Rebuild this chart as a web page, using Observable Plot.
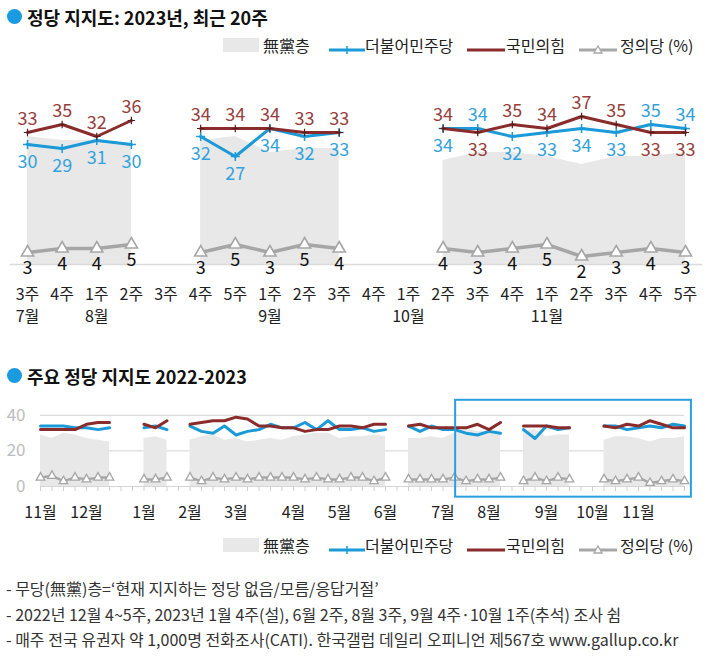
<!DOCTYPE html>
<html><head><meta charset="utf-8">
<script src="https://cdn.jsdelivr.net/npm/d3@7"></script>
<script src="https://cdn.jsdelivr.net/npm/@observablehq/plot@0.6"></script>
<style>
body{margin:0;background:#fff;}
#root{position:relative;width:720px;height:663px;overflow:hidden;font-family:"Noto Sans CJK KR","Noto Sans",sans-serif;color:#222;}
.abs{position:absolute;white-space:nowrap;}
.title{font-weight:bold;font-size:18px;line-height:22px;color:#111;}
.bullet{width:15px;height:15px;border-radius:50%;background:#1a9be0;}
.leg{font-size:16px;line-height:20px;color:#222;}
.note{font-size:16px;line-height:20px;color:#333;}
svg{overflow:visible;}
</style></head><body><div id="root"></div>
<script>
// ---- data (weekly, Nov 2022 1st week .. Nov 2023 5th week; null = no survey) ----
const monthNamesAll = ["11월","12월","1월","2월","3월","4월","5월","6월","7월","8월","9월","10월","11월"];
const monthStartIdx = [0,4,9,13,17,22,26,30,35,39,44,48,52];
const democratic = [34,34,34,33,33,32,33,null,null,33,34,32,null,
  34,31,30,34,29,31,32,35,33,33,36,32,37,32,32,33,31,32,null,
  34,31,34,32,32,30,29,31,30,null,32,27,34,32,33,null,null,34,34,32,33,34,33,35,34];
const ppp = [32,32,32,32,35,36,36,null,null,35,33,37,null,
  35,36,37,37,39,38,34,34,33,33,31,32,32,34,34,33,35,35,null,
  34,35,33,33,33,33,35,32,36,null,34,34,34,33,33,null,null,34,33,35,34,37,35,33,33];
const justice = [5,6,3,5,4,5,5,null,null,4,4,5,null,
  5,3,5,4,5,4,5,5,5,5,4,5,4,4,5,5,3,5,null,
  4,4,4,4,5,3,4,4,5,null,3,5,3,5,4,null,null,4,3,4,5,2,3,4,3];
const independents = [29,27,30,29,27,26,25,null,null,27,28,26,null,
  26,28,29,26,27,25,26,27,26,28,29,30,30,27,28,28,29,28,null,
  27,27,28,27,30,32,31,31,30,null,31,32,28,29,29,null,null,26,28,28,27,25,27,27,28];
const recentStart = 37; // 2023년 7월 3주
const recentWeekLabels = ["3주","4주","1주","2주","3주","4주","5주","1주","2주","3주","4주","1주","2주","3주","4주","1주","2주","3주","4주","5주"];
const recentMonthIdx = [0,2,7,11,15];
const recentMonthNames = ["7월","8월","9월","10월","11월"];
const yTicksAll = [0,20,40];
const legendNames = ["無黨층","더불어민주당","국민의힘","정의당 (%)"];
const notes = [
  "- 무당(無黨)층=‘현재 지지하는 정당 없음/모름/응답거절’",
  "- 2022년 12월 4~5주, 2023년 1월 4주(설), 6월 2주, 8월 3주, 9월 4주·10월 1주(추석) 조사 쉼",
  "- 매주 전국 유권자 약 1,000명 전화조사(CATI). 한국갤럽 데일리 오피니언 제567호 www.gallup.co.kr"
];

const BLUE="#1b9ad8", BLUE_T="#33a2dc", RED="#8b2c2c", RED_T="#96403d", GRAY="#a6a6a6", AREA="#e8e8e8", BOX="#2a9fe0";
const NUMFONT='"Liberation Sans Narrow","Arial Narrow","Noto Sans CJK KR",sans-serif';

const all = d3.range(democratic.length).map(i => ({i, blue: democratic[i], red: ppp[i], jp: justice[i], ind: independents[i]}));
const recent = all.slice(recentStart).map((d,k) => ({...d, k}));

const root = document.getElementById("root");
function add(html, cls, left, top){ const e=document.createElement("div"); e.className="abs "+cls; e.style.left=left+"px"; e.style.top=top+"px"; e.innerHTML=html; root.appendChild(e); return e; }

// titles
add("", "bullet", 7, 9);
add("정당 지지도: 2023년, 최근 20주", "title", 27, 6);
add("", "bullet", 7, 368);
add("주요 정당 지지도 2022-2023", "title", 27, 365);

// legend
function legend(cy){
  const sw = add("", "", 223, cy-7); sw.style.width="36px"; sw.style.height="14px"; sw.style.background=AREA;
  add(legendNames[0], "leg", 263, cy-10);
  add(`<svg width="36" height="14"><line x1="0" x2="36" y1="7" y2="7" stroke="${BLUE}" stroke-width="3"/><line x1="18" x2="18" y1="3" y2="11" stroke="${BLUE}" stroke-width="1.5"/></svg>`, "", 329, cy-7);
  add(legendNames[1], "leg", 365, cy-10);
  add(`<svg width="38" height="14"><line x1="0" x2="38" y1="7" y2="7" stroke="${RED}" stroke-width="3"/></svg>`, "", 467, cy-7);
  add(legendNames[2], "leg", 506, cy-10);
  add(`<svg width="38" height="14"><line x1="0" x2="38" y1="7" y2="7" stroke="${GRAY}" stroke-width="3"/><path d="M19,3 L23,10 L15,10 Z" fill="white" stroke="${GRAY}" stroke-width="1.3"/></svg>`, "", 579, cy-7);
  add(legendNames[3], "leg", 620, cy-10);
}
legend(45);
legend(545);

// footnotes
notes.forEach((t,j) => add(t, "note", 6, 578 + j*25.5));

// ---- top chart ----
const above = d => d.red >= d.blue;
const topPlot = Plot.plot({
  width: 720, height: 260,
  marginLeft: 9.7, marginRight: 17.7, marginTop: 14, marginBottom: 66,
  x: {domain: [-0.5, 19.5]},
  y: {domain: [0, 45], axis: null},
  style: {fontFamily: NUMFONT, fontSize: "16px", color: "#222", background: "transparent", overflow: "visible"},
  marks: [
    Plot.areaY(recent, {x: "k", y1: 0, y2: "ind", fill: AREA}),
    Plot.ruleY([0], {stroke: "#dadada", strokeWidth: 1.5}),
    Plot.lineY(recent, {x: "k", y: "jp", stroke: GRAY, strokeWidth: 3.5}),
    Plot.dot(recent, {x: "k", y: "jp", symbol: "triangle", r: 4.5, fill: "white", stroke: GRAY, strokeWidth: 1.6}),
    Plot.lineY(recent, {x: "k", y: "blue", stroke: BLUE, strokeWidth: 3}),
    Plot.dot(recent, {x: "k", y: "blue", symbol: "plus", r: 3, stroke: BLUE, strokeWidth: 1.5}),
    Plot.lineY(recent, {x: "k", y: "red", stroke: RED, strokeWidth: 3}),
    Plot.dot(recent, {x: "k", y: "red", symbol: "plus", r: 2.5, stroke: "#5a1c1c", strokeWidth: 1.2}),
    Plot.text(recent, {filter: d => d.red != null && above(d), x: "k", y: "red", text: d => String(d.red), dy: -13, fill: RED_T, fontSize: 18}),
    Plot.text(recent, {filter: d => d.red != null && !above(d), x: "k", y: "red", text: d => String(d.red), dy: 18, fill: RED_T, fontSize: 18}),
    Plot.text(recent, {filter: d => d.blue != null && !above(d), x: "k", y: "blue", text: d => String(d.blue), dy: -13, fill: BLUE_T, fontSize: 18}),
    Plot.text(recent, {filter: d => d.blue != null && above(d), x: "k", y: "blue", text: d => String(d.blue), dy: 18, fill: BLUE_T, fontSize: 18}),
    Plot.text(recent, {filter: d => d.jp != null, x: "k", y: "jp", text: d => String(d.jp), dy: 16, fill: "#111", fontSize: 18}),
    Plot.axisX(d3.range(recentWeekLabels.length), {tickSize: 0, tickPadding: 24, tickFormat: i => recentWeekLabels[i], fontSize: 16, label: null}),
    Plot.axisX(recentMonthIdx, {tickSize: 0, tickPadding: 46, tickFormat: i => recentMonthNames[recentMonthIdx.indexOf(i)], fontSize: 16, label: null})
  ]
});
const tp = add("", "", 0, 70); tp.appendChild(topPlot);

// ---- bottom chart ----
const last = all.length - 1;
const botPlot = Plot.plot({
  width: 720, height: 130,
  marginLeft: 40, marginRight: 36, marginTop: 11, marginBottom: 39,
  x: {domain: [0, last]},
  y: {domain: [0, 45]},
  style: {fontFamily: NUMFONT, fontSize: "16px", color: "#222", background: "transparent", overflow: "visible"},
  marks: [
    Plot.gridY(yTicksAll.filter(v => v > 0), {stroke: "#dcdcdc", strokeOpacity: 1, strokeWidth: 1.3}),
    Plot.areaY(all, {x: "i", y1: 0, y2: "ind", fill: AREA}),
    Plot.ruleY([0], {stroke: "#d6d6d6", strokeWidth: 1.2}),
    Plot.axisX(d3.range(all.length), {tickSize: 5, stroke: "#d0d0d0", tickFormat: () => "", label: null}),
    Plot.axisX(monthStartIdx, {tickSize: 0, tickPadding: 20, tickFormat: i => monthNamesAll[monthStartIdx.indexOf(i)], fontSize: 16, label: null}),
    Plot.axisY(yTicksAll, {tickSize: 0, tickPadding: 15, fontSize: 17, color: "#bdbdbd", fill: "#bdbdbd", label: null}),
    Plot.lineY(all, {x: "i", y: "jp", stroke: GRAY, strokeWidth: 2.5}),
    Plot.dot(all, {x: "i", y: "jp", symbol: "triangle", r: 3.2, fill: "white", stroke: GRAY, strokeWidth: 1.3}),
    Plot.lineY(all, {x: "i", y: "blue", stroke: BLUE, strokeWidth: 3}),
    Plot.lineY(all, {x: "i", y: "red", stroke: RED, strokeWidth: 3}),
    Plot.rect([{x1: recentStart - 0.9, x2: last + 0.6}], {x1: "x1", x2: "x2", y1: -6, y2: 48.5, fill: "none", stroke: BOX, strokeWidth: 2})
  ]
});
const bp = add("", "", 0, 395); bp.appendChild(botPlot);
</script></body></html>
